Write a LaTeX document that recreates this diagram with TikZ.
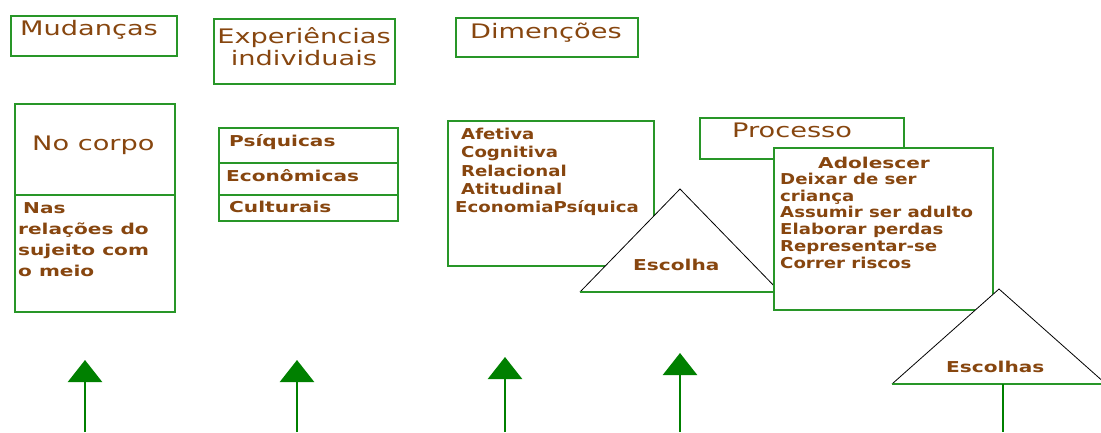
\documentclass[tikz,border=0pt]{standalone}
\usepackage{fontspec}
\usepackage{graphicx}
\setmainfont{DejaVu Sans}
\usetikzlibrary{arrows.meta}
\definecolor{txtbrown}{RGB}{135,70,15}
\definecolor{boxgreen}{RGB}{40,150,40}
\definecolor{arrgreen}{RGB}{0,128,0}
\newcommand\tw[1]{\scalebox{1.36}[1]{#1}}
\newcommand\bw[1]{\scalebox{1.34}[1]{#1}}
\newcommand\bn[1]{\scalebox{1.21}[1]{#1}}
\tikzset{
  box/.style={draw=boxgreen, line width=1.5pt, fill=white, inner sep=0pt, anchor=north west},
  ttl/.style={text=txtbrown, inner sep=0pt, anchor=base west, font=\fontsize{20}{24}\selectfont},
  lst/.style={text=txtbrown, inner sep=0pt, anchor=base west, font=\bfseries\fontsize{15}{18}\selectfont},
  tri/.style={draw=black, line width=0.8pt, line join=miter},
  tribase/.style={draw=boxgreen, line width=1.5pt},
  uparrow/.style={draw=arrgreen, line width=2.5pt, -{Triangle[width=34pt,length=22pt]}, arrgreen},
}
\begin{document}
\begin{tikzpicture}[x=1pt,y=-1pt]
\useasboundingbox (0,0) rectangle (1101,432);
% top titles
\node[box, minimum width=166pt, minimum height=40pt] (mudbox) at (10,15) {};
\node[ttl] (mud) at (20,35) {\tw{Mudanças}};
\node[box, minimum width=181pt, minimum height=65pt] (expbox) at (213,18) {};
\node[ttl, anchor=base] (exp1) at (304,43) {\tw{Experiências}};
\node[ttl, anchor=base] (exp2) at (304,65) {\tw{individuais}};
\node[box, minimum width=182pt, minimum height=39pt] (dimbox) at (455,17) {};
\node[ttl] (dim) at (470,38) {\tw{Dimenções}};
% corpo
\node[box, minimum width=160pt, minimum height=91pt] (corpotop) at (14,103) {};
\node[box, minimum width=160pt, minimum height=117pt] (corpobot) at (14,194) {};
\node[ttl] (corpo) at (32,150) {\tw{No corpo}};
\node[lst] (nas1) at (23,213) {\bw{Nas}};
\node[lst] (nas2) at (18,234) {\bw{relações do}};
\node[lst] (nas3) at (18,255) {\bw{sujeito com}};
\node[lst] (nas4) at (18,276) {\bw{o meio}};
% psiquicas
\node[box, minimum width=179pt, minimum height=35pt] (psibox) at (218,127) {};
\node[box, minimum width=179pt, minimum height=32pt] (ecobox) at (218,162) {};
\node[box, minimum width=179pt, minimum height=26pt] (culbox) at (218,194) {};
\node[lst] (psi) at (229,146) {\bw{Psíquicas}};
\node[lst] (eco) at (226,181) {\bw{Econômicas}};
\node[lst] (cul) at (229,212) {\bw{Culturais}};
% afetiva
\node[box, minimum width=206pt, minimum height=145pt] (afbox) at (447,120) {};
\node[lst] (af1) at (461,139) {\bn{Afetiva}};
\node[lst] (af2) at (461,157) {\bn{Cognitiva}};
\node[lst] (af3) at (461,176) {\bn{Relacional}};
\node[lst] (af4) at (461,194) {\bn{Atitudinal}};
\node[lst] (af5) at (455,212) {\bn{EconomiaPsíquica}};
% triangle 1
\coordinate (t1a) at (680,189);
\coordinate (t1l) at (580,292);
\coordinate (t1r) at (780,292);
\path[fill=white] (t1l) -- (t1a) -- (t1r) -- cycle;
\draw[tri] (t1l) -- (t1a) -- (t1r);
\draw[tribase] (t1l) -- (t1r);
\node[lst] (esc1) at (633,270) {\bw{Escolha}};
% processo
\node[box, minimum width=204pt, minimum height=41pt] (procbox) at (699,117) {};
\node[ttl] (proc) at (732,137) {\tw{Processo}};
\node[box, minimum width=219pt, minimum height=162pt] (adbox) at (773,147) {};
\node[lst] (ad0) at (818,168) {\bw{Adolescer}};
\node[lst] (ad1) at (780,184) {\bn{Deixar de ser}};
\node[lst] (ad2) at (780,201) {\bn{criança}};
\node[lst] (ad3) at (780,217) {\bn{Assumir ser adulto}};
\node[lst] (ad4) at (780,234) {\bn{Elaborar perdas}};
\node[lst] (ad5) at (780,251) {\bn{Representar-se}};
\node[lst] (ad6) at (780,268) {\bn{Correr riscos}};
% triangle 2
\coordinate (t2a) at (999,289);
\coordinate (t2l) at (892,384);
\coordinate (t2r) at (1106,384);
\path[fill=white] (t2l) -- (t2a) -- (t2r) -- cycle;
\draw[tri] (t2l) -- (t2a) -- (t2r);
\draw[tribase] (t2l) -- (t2r);
\node[lst] (esc2) at (946,372) {\bw{Escolhas}};
\coordinate (t2foot) at (1003,384);
\coordinate (t2end) at (1003,432);
\draw[draw=arrgreen, line width=2.5pt] (t2foot) -- (t2end);
% arrows
\coordinate (a1s) at (85,432); \coordinate (a1e) at (85,360);
\coordinate (a2s) at (297,432); \coordinate (a2e) at (297,360);
\coordinate (a3s) at (505,432); \coordinate (a3e) at (505,357);
\coordinate (a4s) at (680,432); \coordinate (a4e) at (680,353);
\draw[uparrow] (a1s) -- (a1e);
\draw[uparrow] (a2s) -- (a2e);
\draw[uparrow] (a3s) -- (a3e);
\draw[uparrow] (a4s) -- (a4e);
\end{tikzpicture}
\end{document}
